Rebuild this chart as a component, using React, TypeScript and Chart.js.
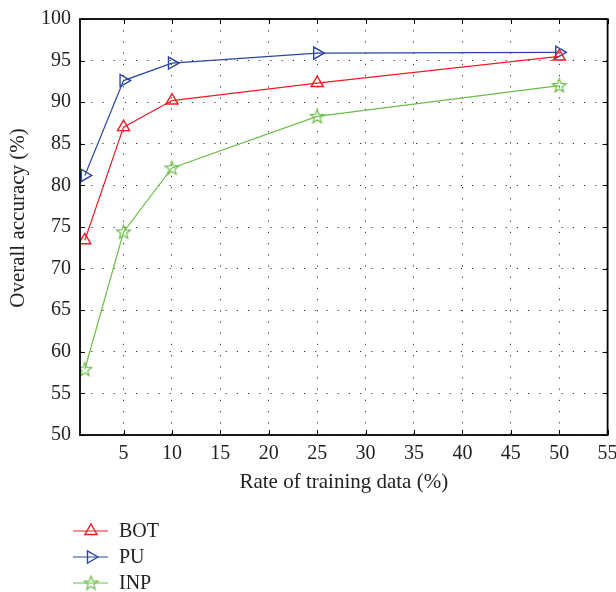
import React, { useEffect, useRef } from "react";
import { Chart, registerables } from "chart.js";
import { drawPoint } from "chart.js/helpers";

Chart.register(...registerables);

const xValues = [1, 5, 10, 25, 50];
const botValues = [73.4, 87.0, 90.2, 92.3, 95.5];
const puValues = [81.2, 92.6, 94.7, 95.9, 96.0];
const inpValues = [57.9, 74.4, 82.1, 88.3, 92.0];
const xTickValues = [5, 10, 15, 20, 25, 30, 35, 40, 45, 50, 55];
const yTickValues = [50, 55, 60, 65, 70, 75, 80, 85, 90, 95, 100];
const seriesNames = ["BOT", "PU", "INP"];
const yTitle = "Overall accuracy (%)";
const xTitle = "Rate of training data (%)";

const RED = "rgb(237,28,36)";
const BLUE = "rgb(44,70,160)";
const GREEN = "rgb(108,190,72)";
const FONT = "'Liberation Serif', 'DejaVu Serif', serif";

function makeStar(color: string): HTMLCanvasElement {
  const c = document.createElement("canvas");
  c.width = 17;
  c.height = 17;
  const g = c.getContext("2d")!;
  const cx = 8.5, cy = 8.9, ro = 7.2, ri = 3.0;
  g.beginPath();
  for (let i = 0; i < 10; i++) {
    const r = i % 2 === 0 ? ro : ri;
    const a = -Math.PI / 2 + (i * Math.PI) / 5;
    const px = cx + r * Math.cos(a);
    const py = cy + r * Math.sin(a);
    if (i === 0) g.moveTo(px, py);
    else g.lineTo(px, py);
  }
  g.closePath();
  g.strokeStyle = color;
  g.lineWidth = 1.2;
  g.stroke();
  return c;
}

export default function App() {
  const ref = useRef<HTMLCanvasElement>(null);
  useEffect(() => {
    document.body.style.margin = "0";
    const star = makeStar(GREEN);
    const toPts = (ys: number[]) => xValues.map((x, i) => ({ x, y: ys[i] }));

    const framePlugin = {
      id: "frame",
      afterDraw(chart: any) {
        const { ctx, chartArea: a, scales } = chart;
        ctx.save();
        ctx.strokeStyle = "#000";
        ctx.lineWidth = 1;
        const tl = 5;
        ctx.beginPath();
        xTickValues.forEach((v) => {
          const px = Math.round(scales.x.getPixelForValue(v)) + 0.5;
          ctx.moveTo(px, a.bottom);
          ctx.lineTo(px, a.bottom - tl);
          ctx.moveTo(px, a.top);
          ctx.lineTo(px, a.top + tl);
        });
        yTickValues.forEach((v) => {
          const py = Math.round(scales.y.getPixelForValue(v)) + 0.5;
          ctx.moveTo(a.left, py);
          ctx.lineTo(a.left + tl, py);
          ctx.moveTo(a.right, py);
          ctx.lineTo(a.right - tl, py);
        });
        ctx.stroke();
        ctx.lineWidth = 1.8;
        ctx.strokeRect(a.left, a.top, a.right - a.left, a.bottom - a.top);

        // y title
        ctx.save();
        ctx.translate(18, 218);
        ctx.rotate(-Math.PI / 2);
        ctx.fillStyle = "#222";
        ctx.font = `21px ${FONT}`;
        ctx.textAlign = "center";
        ctx.textBaseline = "middle";
        ctx.fillText(yTitle, 0, 0);
        ctx.restore();

        // legend
        const ds = chart.data.datasets;
        const rows = [531, 557, 583];
        ds.forEach((d: any, i: number) => {
          const y = rows[i];
          ctx.strokeStyle = d.borderColor;
          ctx.lineWidth = 1.2;
          ctx.beginPath();
          ctx.moveTo(73, y);
          ctx.lineTo(108, y);
          ctx.stroke();
          ctx.strokeStyle = d.borderColor;
          ctx.fillStyle = "rgba(0,0,0,0)";
          ctx.lineWidth = d.pointBorderWidth;
          drawPoint(ctx, {
            pointStyle: d.pointStyle,
            radius: d.pointRadius,
            rotation: d.pointRotation || 0,
            borderWidth: d.pointBorderWidth,
          } as any, 91, y);
          ctx.fillStyle = "#222";
          ctx.font = `20px ${FONT}`;
          ctx.textAlign = "left";
          ctx.textBaseline = "middle";
          ctx.fillText(d.label, 119, y + 1);
        });
        ctx.restore();
      },
    };

    const gridCfg = {
      color: "#333",
      lineWidth: 1,
      drawTicks: false,
    };
    const borderCfg = { display: false, dash: [1.2, 10] };

    const chart = new Chart(ref.current!, {
      type: "line",
      data: {
        datasets: [
          {
            label: seriesNames[0],
            data: toPts(botValues),
            borderColor: RED,
            backgroundColor: "rgba(0,0,0,0)",
            borderWidth: 1.2,
            pointStyle: "triangle",
            pointRadius: 7,
            pointBorderWidth: 1.4,
            pointBackgroundColor: "rgba(0,0,0,0)",
            pointBorderColor: RED,
            pointRotation: 0,
          },
          {
            label: seriesNames[1],
            data: toPts(puValues),
            borderColor: BLUE,
            backgroundColor: "rgba(0,0,0,0)",
            borderWidth: 1.2,
            pointStyle: "triangle",
            pointRadius: 7,
            pointBorderWidth: 1.4,
            pointBackgroundColor: "rgba(0,0,0,0)",
            pointBorderColor: BLUE,
            pointRotation: 90,
          },
          {
            label: seriesNames[2],
            data: toPts(inpValues),
            borderColor: GREEN,
            backgroundColor: "rgba(0,0,0,0)",
            borderWidth: 1.2,
            pointStyle: star as any,
            pointRadius: 7,
            pointBorderWidth: 1.2,
            pointBackgroundColor: "rgba(0,0,0,0)",
            pointBorderColor: GREEN,
          },
        ],
      },
      options: {
        animation: false,
        responsive: false,
        layout: { padding: { top: 19, right: 8, left: 0, bottom: 87 } },
        plugins: {
          legend: { display: false },
          tooltip: { enabled: false },
        },
        scales: {
          x: {
            type: "linear",
            min: 0.5,
            max: 55,
            afterBuildTicks: (s: any) => {
              s.ticks = xTickValues.map((v) => ({ value: v }));
            },
            afterFit: (s: any) => {
              s.height = 70;
              s.paddingRight = 0;
              s.paddingLeft = 0;
            },
            grid: gridCfg as any,
            border: borderCfg as any,
            ticks: {
              color: "#222",
              padding: 7,
              font: { family: FONT, size: 20 },
            },
            title: {
              display: true,
              text: xTitle,
              color: "#222",
              font: { family: FONT, size: 21 },
              padding: { top: 4, bottom: 10 },
            },
          },
          y: {
            type: "linear",
            min: 50,
            max: 100,
            afterBuildTicks: (s: any) => {
              s.ticks = yTickValues.map((v) => ({ value: v }));
            },
            afterFit: (s: any) => {
              s.width = 80;
              s.paddingTop = 0;
              s.paddingBottom = 0;
            },
            grid: gridCfg as any,
            border: borderCfg as any,
            ticks: {
              color: "#222",
              padding: 9,
              font: { family: FONT, size: 20 },
            },
            title: { display: false },
          },
        },
      },
      plugins: [framePlugin],
    });
    return () => chart.destroy();
  }, []);
  return <canvas ref={ref} width={616} height={592} style={{ display: "block" }} />;
}
